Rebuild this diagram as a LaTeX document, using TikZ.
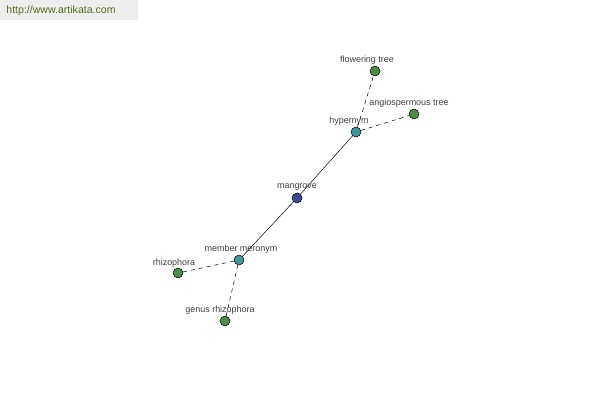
\documentclass[tikz,border=0pt]{standalone}
\usepackage{fontspec}
\setmainfont{Liberation Sans}
\usepackage{tikz}
\usetikzlibrary{arrows,shapes}
\definecolor{root}{RGB}{60,72,150}
\definecolor{rel}{RGB}{62,150,150}
\definecolor{leaf}{RGB}{78,138,72}
\definecolor{site}{RGB}{80,110,30}
\definecolor{band}{RGB}{238,238,238}

\begin{document}
\begin{tikzpicture}[every node/.style={inner sep=0pt},
  dot/.style={draw,circle,minimum size=10bp,line width=0.5pt},
  tag/.style={font=\fontsize{9}{10}\selectfont,text=black!75}]
\useasboundingbox (0bp,0bp) rectangle (600bp,-400bp);
\fill[white] (0bp,0bp) rectangle (600bp,-400bp);

\node (band) at (69bp,-10bp)[fill=band,minimum width=138bp,minimum height=20bp] {};
\node (url) at (61bp,-11bp)[text=site,font=\fontsize{10.6}{12}\selectfont] {http://www.artikata.com};

\node (M) at (297bp,-198bp)[dot,fill=root] {};
\node (H) at (356bp,-132bp)[dot,fill=rel] {};
\node (MM) at (239bp,-260bp)[dot,fill=rel] {};
\node (FT) at (375bp,-71bp)[dot,fill=leaf] {};
\node (AT) at (414bp,-114bp)[dot,fill=leaf] {};
\node (R) at (178bp,-273bp)[dot,fill=leaf] {};
\node (GR) at (225bp,-321bp)[dot,fill=leaf] {};

\draw [line width=0.5pt] (M) -- (H);
\draw [line width=0.5pt] (M) -- (MM);
\draw [dash pattern=on 4bp off 4bp,line width=0.5pt] (H) -- (FT);
\draw [dash pattern=on 4bp off 4bp,line width=0.5pt] (H) -- (AT);
\draw [dash pattern=on 4bp off 4bp,line width=0.5pt] (MM) -- (R);
\draw [dash pattern=on 4bp off 4bp,line width=0.5pt] (MM) -- (GR);

\node (LM) at (297bp,-187bp)[tag] {mangrove};
\node (LH) at (349bp,-121bp)[tag] {hypernym};
\node (LMM) at (241bp,-249bp)[tag] {member meronym};
\node (LFT) at (367bp,-60bp)[tag] {flowering tree};
\node (LAT) at (409bp,-103bp)[tag] {angiospermous tree};
\node (LR) at (174bp,-263bp)[tag] {rhizophora};
\node (LGR) at (220bp,-310bp)[tag] {genus rhizophora};
\end{tikzpicture}
\end{document}
